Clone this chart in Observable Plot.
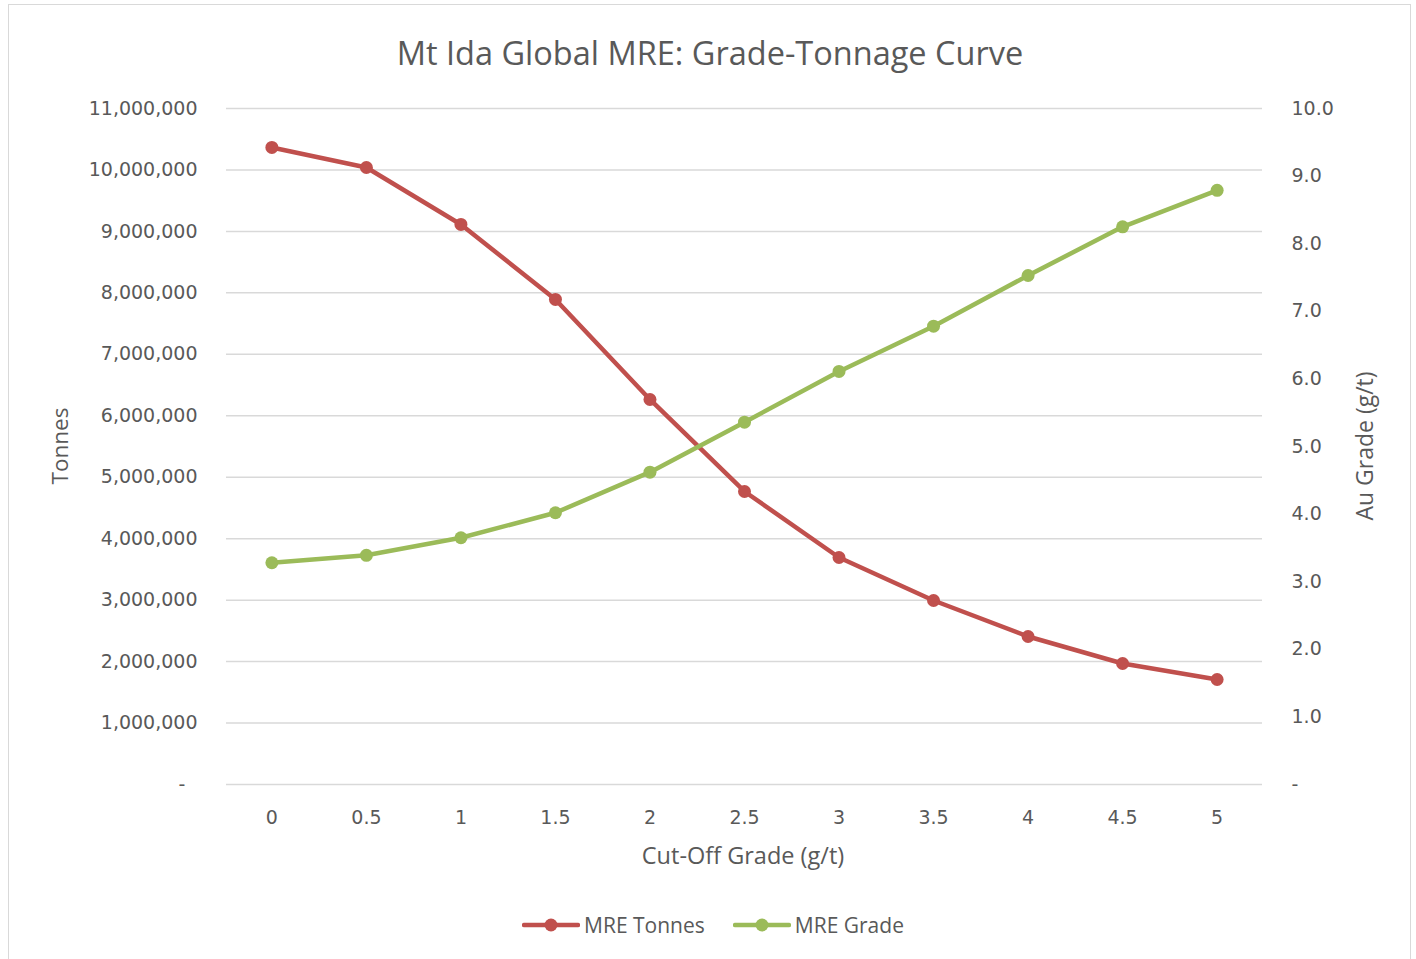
<!DOCTYPE html>
<html>
<head>
<meta charset="utf-8">
<script src="https://cdn.jsdelivr.net/npm/d3@7"></script>
<script src="https://cdn.jsdelivr.net/npm/@observablehq/plot@0.6"></script>
<style>
  html, body { margin: 0; padding: 0; background: #fff; }
  body { width: 1416px; height: 959px; position: relative; overflow: hidden; }
  #frame { position: absolute; left: 8px; top: 4px; width: 1403px; height: 980px; border: 1px solid #d9d9d9; box-sizing: border-box; }
  #title { position: absolute; left: 0; width: 1420px; top: 28px; text-align: center; font-family: "Open Sans", sans-serif; font-size: 32.5px; color: #595959; line-height: 50px; }
  #chart { position: absolute; left: 0; top: 90px; }
  #chart svg g[aria-label$="tick label"] { font-family: "DejaVu Sans", sans-serif; font-size: 19px; }
  .axlabel { position: absolute; font-family: "Open Sans", sans-serif; font-size: 22px; color: #595959; white-space: nowrap; line-height: 30px; }
  #legend { position: absolute; top: 911px; left: 0; width: 1426px; display: flex; justify-content: center; font-family: "Open Sans", sans-serif; font-size: 21px; color: #595959; }
  .item { display: flex; align-items: center; margin: 0 14px; }
  .item svg { margin-right: 4px; }
</style>
</head>
<body>
<div id="frame"></div>
<div id="title">Mt Ida Global MRE: Grade-Tonnage Curve</div>
<div id="chart"></div>
<div class="axlabel" id="ylab" style="left:60px; top:446px; font-size:22.5px; transform: translate(-50%,-50%) rotate(-90deg);">Tonnes</div>
<div class="axlabel" id="y2lab" style="left:1364px; top:446px; font-size:23px; transform: translate(-50%,-50%) rotate(-90deg);">Au Grade (g/t)</div>
<div class="axlabel" id="xlab" style="left:743px; top:855px; font-size:23.5px; transform: translate(-50%,-50%);">Cut-Off Grade (g/t)</div>
<div id="legend"></div>
<script>
// ---- data ----
const cutoff = [0, 0.5, 1, 1.5, 2, 2.5, 3, 3.5, 4, 4.5, 5];
const tonnes = [10366000, 10040000, 9113000, 7893000, 6265000, 4768000, 3694000, 2994000, 2408000, 1969000, 1709000];
const grade = [3.28, 3.39, 3.65, 4.02, 4.62, 5.36, 6.11, 6.78, 7.53, 8.25, 8.79];
const leftTicks = [0, 1000000, 2000000, 3000000, 4000000, 5000000, 6000000, 7000000, 8000000, 9000000, 10000000, 11000000];
const rightTicks = [0, 1, 2, 3, 4, 5, 6, 7, 8, 9, 10];
const seriesNames = ["MRE Tonnes", "MRE Grade"];
const colors = ["#C0504D", "#9BBB59"];

const k = 11000000 / 10; // right-axis scale factor
const rows = cutoff.map((c, i) => ({cutoff: c, tonnes: tonnes[i], grade: grade[i], gradeScaled: grade[i] * k}));

const tickFont = {fontSize: 19, fontFamily: "DejaVu Sans, sans-serif", color: "#595959"};

const chart = Plot.plot({
  width: 1416,
  height: 800,
  marginLeft: 226,
  marginRight: 154,
  marginTop: 18,
  marginBottom: 106,
  style: {background: "transparent", color: "#595959"},
  x: {type: "point", domain: cutoff, padding: 0.48, round: false},
  y: {domain: [0, 11000000]},
  marks: [
    Plot.gridY(leftTicks, {stroke: "#d9d9d9", strokeOpacity: 1, strokeWidth: 1.5}),
    Plot.axisY(leftTicks, {anchor: "left", tickSize: 0, tickPadding: 29, label: null,
      tickFormat: d => d === 0 ? "-\u00a0\u00a0" : d3.format(",")(d), ...tickFont}),
    Plot.axisY(rightTicks.map(d => d * k), {anchor: "right", tickSize: 0, tickPadding: 29, label: null,
      tickFormat: d => d === 0 ? "-" : (d / k).toFixed(1), ...tickFont}),
    Plot.axisX({anchor: "bottom", tickSize: 0, tickPadding: 26, label: null, tickFormat: d => String(d), ...tickFont}),
    Plot.line(rows, {x: "cutoff", y: "tonnes", stroke: colors[0], strokeWidth: 4.5}),
    Plot.dot(rows, {x: "cutoff", y: "tonnes", fill: colors[0], r: 6.5}),
    Plot.line(rows, {x: "cutoff", y: "gradeScaled", stroke: colors[1], strokeWidth: 4.5}),
    Plot.dot(rows, {x: "cutoff", y: "gradeScaled", fill: colors[1], r: 6.5})
  ]
});
document.getElementById("chart").appendChild(chart);

// legend
const legend = document.getElementById("legend");
seriesNames.forEach((name, i) => {
  const item = document.createElement("div");
  item.className = "item";
  item.innerHTML = `<svg width="58" height="20"><line x1="2" y1="10" x2="56" y2="10" stroke="${colors[i]}" stroke-width="4.5" stroke-linecap="round"/><circle cx="29" cy="10" r="6.5" fill="${colors[i]}"/></svg><span>${name}</span>`;
  legend.appendChild(item);
});
</script>
</body>
</html>
